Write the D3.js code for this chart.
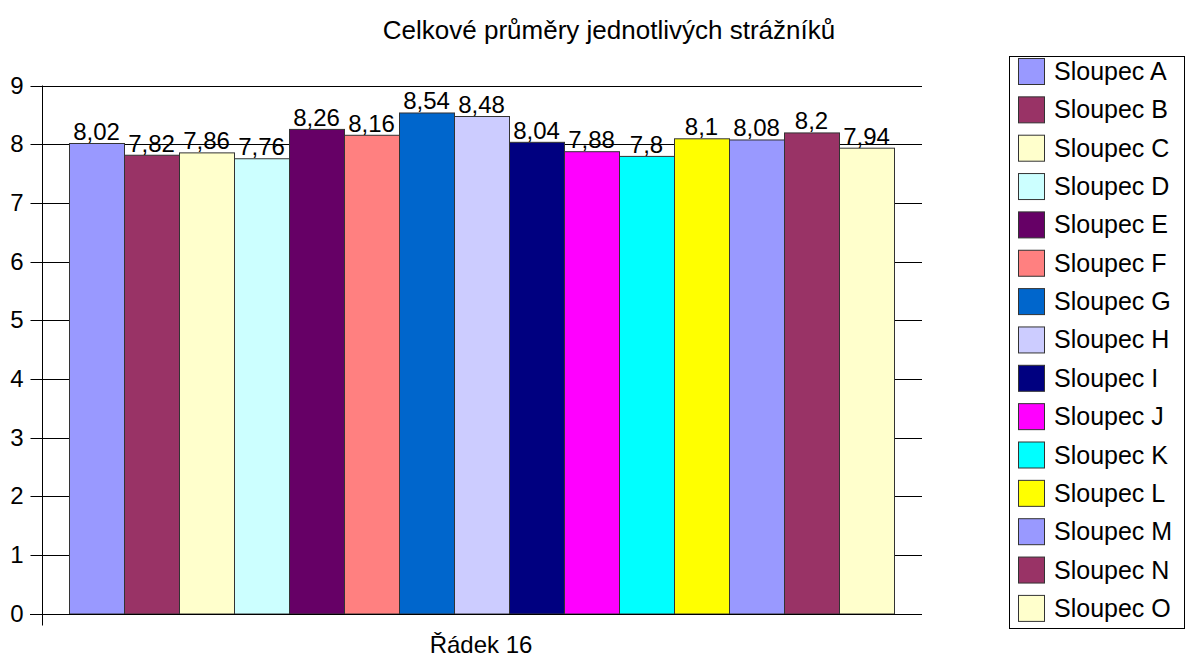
<!DOCTYPE html>
<html>
<head>
<meta charset="utf-8">
<script src="https://cdn.jsdelivr.net/npm/d3@7"></script>
<style>
  body { margin: 0; background: #fff; }
  svg { display: block; font-family: "Liberation Sans", Arial, sans-serif; }
</style>
</head>
<body>
<svg id="chart" width="1198" height="657"></svg>
<script>
// Data
const seriesNames = ["Sloupec A", "Sloupec B", "Sloupec C", "Sloupec D", "Sloupec E",
    "Sloupec F", "Sloupec G", "Sloupec H", "Sloupec I", "Sloupec J",
    "Sloupec K", "Sloupec L", "Sloupec M", "Sloupec N", "Sloupec O"];
const seriesValues = [8.02, 7.82, 7.86, 7.76, 8.26, 8.16, 8.54, 8.48, 8.04, 7.88, 7.8, 8.1, 8.08, 8.2, 7.94];
const seriesColors = ["#9999ff", "#993366", "#ffffcc", "#ccffff", "#660066",
    "#ff8080", "#0066cc", "#ccccff", "#000080", "#ff00ff",
    "#00ffff", "#ffff00", "#9999ff", "#993366", "#ffffcc"];
const yTicks = [0, 1, 2, 3, 4, 5, 6, 7, 8, 9];
const category = "Řádek 16";
const title = "Celkové průměry jednotlivých strážníků";

const svg = d3.select("#chart");

// Plot geometry
const plot = { left: 42, right: 922, top: 85.5, bottom: 613.5 };
const barsLeft = 69, barsRight = 894;

const y = d3.scaleLinear().domain([0, 9]).range([plot.bottom, plot.top]);
const x = d3.scaleBand().domain(seriesNames).range([barsLeft, barsRight]).padding(0);

// Title
svg.append("text")
    .attr("x", 609).attr("y", 39)
    .attr("text-anchor", "middle")
    .attr("font-size", 26)
    .text(title);

// Gridlines
svg.append("g").selectAll("line")
    .data(yTicks.filter(d => d > 0))
    .enter().append("line")
    .attr("x1", plot.left).attr("x2", plot.right)
    .attr("y1", d => Math.round(y(d)) + 0.5).attr("y2", d => Math.round(y(d)) + 0.5)
    .attr("stroke", "#000").attr("stroke-width", 1);

// Y axis
const yAxis = d3.axisLeft(y).tickValues(yTicks).tickSize(12).tickPadding(7);
const yg = svg.append("g")
    .attr("transform", `translate(${plot.left + 0.5},0)`)
    .call(yAxis);
yg.select(".domain").remove();
yg.selectAll(".tick line").attr("stroke", "#000");
yg.selectAll(".tick").attr("transform", d => `translate(0,${Math.round(y(d)) + 0.5})`);
yg.selectAll(".tick text")
    .attr("font-size", 24)
    .attr("font-family", "Liberation Sans, Arial, sans-serif")
    .attr("fill", "#000");

svg.append("line")
    .attr("x1", plot.left + 0.5).attr("x2", plot.left + 0.5)
    .attr("y1", plot.top).attr("y2", plot.bottom + 12)
    .attr("stroke", "#000");

// Bars
svg.append("g").selectAll("rect")
    .data(seriesValues)
    .enter().append("rect")
    .attr("x", (d, i) => x(seriesNames[i]) + 0.5)
    .attr("y", d => y(d) + 0.5)
    .attr("width", x.bandwidth())
    .attr("height", d => plot.bottom - y(d))
    .attr("fill", (d, i) => seriesColors[i])
    .attr("stroke", "#333")
    .attr("stroke-width", 1);

// X axis baseline
svg.append("line")
    .attr("x1", plot.left - 12).attr("x2", plot.right)
    .attr("y1", Math.round(plot.bottom) + 0.5).attr("y2", Math.round(plot.bottom) + 0.5)
    .attr("stroke", "#000");

// Value labels
const fmt = v => String(v).replace(".", ",");
svg.append("g").selectAll("text")
    .data(seriesValues)
    .enter().append("text")
    .attr("x", (d, i) => x(seriesNames[i]) + x.bandwidth() / 2)
    .attr("y", d => y(d) - 3)
    .attr("text-anchor", "middle")
    .attr("font-size", 24)
    .text(fmt);

// Category label
svg.append("text")
    .attr("x", 481)
    .attr("y", 653)
    .attr("text-anchor", "middle")
    .attr("font-size", 24)
    .text(category);

// Legend
const legend = { left: 1009, top: 56, right: 1184, bottom: 628, first: 71, step: 38.35 };
svg.append("rect")
    .attr("x", legend.left + 0.5).attr("y", legend.top + 0.5)
    .attr("width", legend.right - legend.left).attr("height", legend.bottom - legend.top)
    .attr("fill", "#fff").attr("stroke", "#000");

const items = svg.append("g").selectAll("g")
    .data(seriesNames)
    .enter().append("g")
    .attr("transform", (d, i) => `translate(0,${legend.first + i * legend.step})`);
items.append("rect")
    .attr("x", 1018.5).attr("y", -12.5)
    .attr("width", 26).attr("height", 26)
    .attr("fill", (d, i) => seriesColors[i])
    .attr("stroke", "#333");
items.append("text")
    .attr("x", 1054).attr("y", 9)
    .attr("font-size", 25)
    .text(d => d);
</script>
</body>
</html>
